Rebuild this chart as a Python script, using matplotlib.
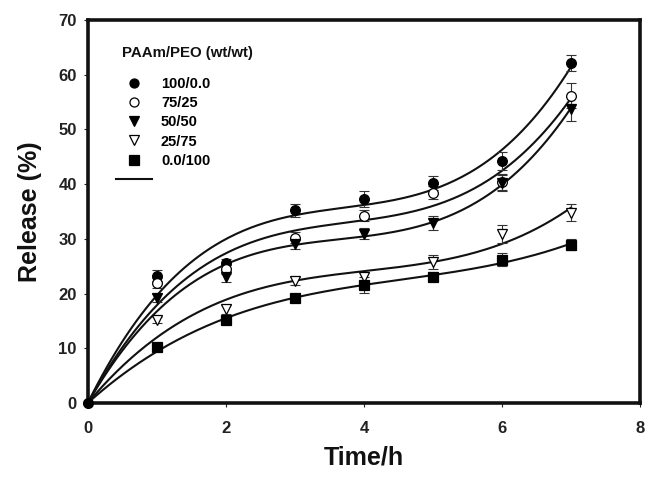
import matplotlib
matplotlib.use('Agg')
import matplotlib.pyplot as plt
from matplotlib.lines import Line2D
import numpy

plt.rcParams['font.family'] = ['Liberation Sans', 'DejaVu Sans']
plt.rcParams['font.weight'] = 'bold'

time_h = [0, 1, 2, 3, 4, 5, 6, 7]

release_100_0 = [0, 23.3, 25.5, 35.2, 37.3, 40.2, 44.2, 62.2]
release_75_25 = [0, 22.0, 24.4, 30.2, 34.2, 38.4, 40.4, 56.2]
release_50_50 = [0, 19.2, 23.1, 29.1, 30.9, 32.9, 40.2, 53.8]
release_25_75 = [0, 15.2, 17.1, 22.3, 23.1, 25.8, 30.9, 34.8]
release_0_100 = [0, 10.2, 15.1, 19.1, 21.6, 23.1, 26.2, 28.9]

err_100_0 = [0, 1.0, 0.8, 1.2, 1.5, 1.3, 1.7, 1.5]
err_75_25 = [0, 0.9, 0.8, 1.0, 1.0, 1.2, 1.5, 2.3]
err_50_50 = [0, 0.8, 1.0, 1.0, 1.0, 1.2, 1.5, 2.3]
err_25_75 = [0, 0.6, 0.8, 0.8, 0.8, 1.3, 1.6, 1.5]
err_0_100 = [0, 0.5, 0.6, 0.7, 1.5, 0.8, 1.2, 1.0]

labels = ['100/0.0', '75/25', '50/50', '25/75', '0.0/100']
markers = ['o', 'o', 'v', 'v', 's']
faces = ['black', 'white', 'black', 'white', 'black']


def cubicThroughOrigin(x, y):
    # least squares y = a x + b x^2 + c x^3
    x = numpy.asarray(x, float)
    A = numpy.column_stack([x, x**2, x**3])
    coef, *_ = numpy.linalg.lstsq(A, numpy.asarray(y, float), rcond=None)
    return coef


fig = plt.figure(figsize=(6.46, 4.78), dpi=100)
ax = fig.add_axes([0.136, 0.157, 0.855, 0.801])

series = [release_100_0, release_75_25, release_50_50, release_25_75, release_0_100]
errors = [err_100_0, err_75_25, err_50_50, err_25_75, err_0_100]

xs = numpy.linspace(0, 7, 200)
for y, e, m, fc in zip(series, errors, markers, faces):
    a, b, c = cubicThroughOrigin(time_h, y)
    ax.plot(xs, a*xs + b*xs**2 + c*xs**3, color='#111111', lw=1.5, zorder=2)
    ax.errorbar(time_h, y, yerr=e, fmt='none', ecolor='#333333', elinewidth=0.8,
                capsize=3.5, capthick=0.8, zorder=3)
    ax.plot(time_h[1:], y[1:], m, ms=7, mfc=fc, mec='black', mew=0.9,
            ls='none', zorder=4)

ax.plot([time_h[0]], [release_100_0[0]], 'o', ms=7, color='black', clip_on=False, zorder=5)

ax.set_xlim(0, 8)
ax.set_ylim(0, 70)
ax.set_xticks([0, 2, 4, 6, 8])
ax.set_yticks(range(0, 71, 10))

for s in ax.spines.values():
    s.set_linewidth(2.6)
    s.set_color('#111111')

ax.tick_params(axis='both', direction='out', length=3, width=0.8, colors='#222222',
               labelsize=12)
ax.tick_params(axis='x', pad=10)
ax.tick_params(axis='y', pad=5)
for t in ax.get_xticklabels() + ax.get_yticklabels():
    t.set_fontweight('bold')

ax.set_xlabel('Time/h', fontsize=18, fontweight='bold', labelpad=7, color='#111111')
ax.set_ylabel('Release (%)', fontsize=18, fontweight='bold', labelpad=12, color='#111111')

handles = []
for m, fc in zip(markers, faces):
    handles.append(Line2D([], [], marker=m, ls='none', ms=6.5, mfc=fc, mec='black', mew=0.9))
handles.append(Line2D([], [], color='#111111', lw=1.5))

leg = ax.legend(handles, labels + [''], loc='upper left',
                bbox_to_anchor=(0.028, 0.885), frameon=False, fontsize=10.5,
                handlelength=2.45, handletextpad=0.6, labelspacing=0.35)
for t in leg.get_texts():
    t.set_fontweight('bold')

ax.text(0.062, 0.913, 'PAAm/PEO (wt/wt)', transform=ax.transAxes, fontsize=10.8,
        fontweight='bold', ha='left', va='center', color='#111111')

fig.savefig('out.png', dpi=100)
